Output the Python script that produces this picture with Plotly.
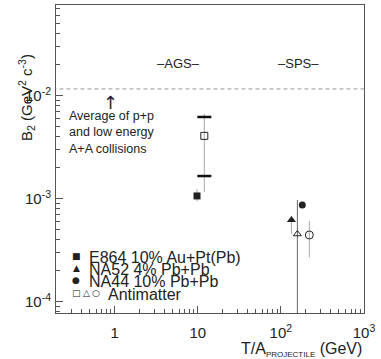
import plotly.graph_objects as go

# ---- data ----
e864_x = [9.8]
e864_y = [1.07e-3]
e864_up = [0.18e-3]
e864_dn = [0.12e-3]

na52_x = [134]
na52_y = [6.25e-4]
na52_up = [0.6e-4]
na52_dn = [1.65e-4]

na44_x = [181]
na44_y = [8.75e-4]

anti_sq_x = [12]
anti_sq_y = [4.1e-3]
anti_sq_up = [2.6e-3]
anti_sq_dn = [2.93e-3]
anti_sq_sys = [6.25e-3, 1.67e-3]

anti_tri_x = [158]
anti_tri_y = [4.57e-4]
anti_tri_up = [5.2e-4]
anti_tri_dn = [4.5e-4]

anti_circ_x = [220]
anti_circ_y = [4.47e-4]
anti_circ_up = [1.65e-4]
anti_circ_dn = [1.77e-4]

pp_avg = 0.0117
pp_x = [0.1, 2000]

x_tickvals = [1, 10, 100, 1000]
x_ticktext = ["1", "10", "10<sup>2</sup>", "10<sup>3</sup>"]
y_tickvals = [1e-4, 1e-3, 1e-2]
y_ticktext = ["10<sup>-4</sup>", "10<sup>-3</sup>", "10<sup>-2</sup>"]

FONT = "Liberation Sans, Arial, sans-serif"
INK = "#222222"
FRAME = "#555555"
ERR = "#aaaaaa"

fig = go.Figure()

# average of p+p line
fig.add_trace(go.Scatter(x=pp_x, y=[pp_avg, pp_avg], mode="lines",
                         line=dict(color="#999999", width=1, dash="4px,3px"),
                         hoverinfo="skip"))

# antimatter long error line (drawn first so markers sit on top)
fig.add_trace(go.Scatter(
    x=anti_tri_x, y=anti_tri_y, mode="markers",
    marker=dict(symbol="triangle-up-open", size=7, color=INK, line=dict(width=1)),
    error_y=dict(type="data", array=anti_tri_up, arrayminus=anti_tri_dn,
                 color="#666666", thickness=1, width=0)))

fig.add_trace(go.Scatter(
    x=e864_x, y=e864_y, mode="markers",
    marker=dict(symbol="square", size=7, color=INK),
    error_y=dict(type="data", array=e864_up, arrayminus=e864_dn,
                 color=ERR, thickness=1, width=0)))

fig.add_trace(go.Scatter(
    x=anti_sq_x, y=anti_sq_y, mode="markers",
    marker=dict(symbol="square-open", size=7, color=INK, line=dict(width=1)),
    error_y=dict(type="data", array=anti_sq_up, arrayminus=anti_sq_dn,
                 color=ERR, thickness=1, width=0)))

# systematic bars on the antimatter AGS point
fig.add_trace(go.Scatter(
    x=anti_sq_x * 2, y=anti_sq_sys, mode="markers",
    marker=dict(symbol="line-ew", size=10, line=dict(color="#111111", width=2.5))))

fig.add_trace(go.Scatter(
    x=na52_x, y=na52_y, mode="markers",
    marker=dict(symbol="triangle-up", size=8, color=INK),
    error_y=dict(type="data", array=na52_up, arrayminus=na52_dn,
                 color=ERR, thickness=1, width=0)))

fig.add_trace(go.Scatter(
    x=na44_x, y=na44_y, mode="markers",
    marker=dict(symbol="circle", size=7, color=INK)))

fig.add_trace(go.Scatter(
    x=anti_circ_x, y=anti_circ_y, mode="markers",
    marker=dict(symbol="circle-open", size=8, color=INK, line=dict(width=1)),
    error_y=dict(type="data", array=anti_circ_up, arrayminus=anti_circ_dn,
                 color=ERR, thickness=1, width=0)))

# ---- annotations ----
W, H, L, T = 308.0, 308.0, 56.0, 5.0


def px(x):
    return (x - L) / W


def py(y):
    return (T + H - y) / H


ann = []


def add_text(text, x, y, size, xanchor="center", family=FONT, **kw):
    ann.append(dict(text=text, x=px(x), y=py(y), xref="paper", yref="paper",
                    xanchor=xanchor, yanchor="middle", showarrow=False,
                    font=dict(family=family, size=size, color=INK), **kw))


add_text("\u2013AGS\u2013", 178, 63, 13)
add_text("\u2013SPS\u2013", 298, 63, 13)
add_text("\u2191", 110, 102, 18, family="DejaVu Sans, sans-serif")
add_text("Average of p+p<br>and low energy<br>A+A collisions", 67, 132, 12.5,
         xanchor="left", align="left")

# legend
SYM = "DejaVu Sans, sans-serif"
for gy, g in [(256, "\u25A0"), (268, "\u25B2"), (280, "\u25CF")]:
    add_text(g, 76, gy, 9, family=SYM)
for gx, g in [(76, "\u25A1"), (86, "\u25B3"), (96, "\u25CB")]:
    add_text(g, gx, 293, 9, family=SYM)
add_text("E864 10% Au+Pt(Pb)", 87, 257, 16, xanchor="left")
add_text("NA52 4% Pb+Pb", 87, 269, 16, xanchor="left")
add_text("NA44 10% Pb+Pb", 87, 281, 16, xanchor="left")
add_text("Antimatter", 106, 294, 16, xanchor="left")

# axis titles
ann.append(dict(text="B<sub>2</sub> (GeV<sup>2</sup> c<sup>-3</sup>)",
                x=px(14), y=py(52), xref="paper", yref="paper", textangle=-90,
                showarrow=False, font=dict(family=FONT, size=15, color=INK)))
add_text("T/A<sub><span style='font-size:8px'>PROJECTILE</span></sub> (GeV)",
         364, 349, 16, xanchor="right")

minor_x = [m * 10 ** e for e in range(-1, 3) for m in range(2, 10)]
minor_y = [m * 10 ** e for e in range(-5, -1) for m in range(2, 10)]

axis_common = dict(type="log", showgrid=False, zeroline=False, showline=True,
                   linecolor=FRAME, linewidth=1, mirror=True, ticks="inside",
                   ticklen=7, tickcolor=FRAME, tickwidth=1, automargin=False,
                   tickfont=dict(family=FONT, size=15, color=INK))

fig.update_layout(
    width=381, height=359,
    margin=dict(l=56, r=17, t=5, b=46),
    paper_bgcolor="white", plot_bgcolor="white",
    showlegend=False,
    annotations=ann,
    xaxis=dict(range=[-0.705, 3.0], tickmode="array", tickvals=x_tickvals,
               ticktext=x_ticktext, ticklabelstandoff=6,
               minor=dict(tickmode="array", tickvals=minor_x, ticks="inside",
                          ticklen=4, tickcolor=FRAME),
               **axis_common),
    yaxis=dict(range=[-4.107, -1.117], tickmode="array", tickvals=y_tickvals,
               ticktext=y_ticktext, ticklabelstandoff=1,
               minor=dict(tickmode="array", tickvals=minor_y, ticks="inside",
                          ticklen=4, tickcolor=FRAME),
               **axis_common),
)

# page body has a default margin; drop it so the figure fills the window
fig.write_html("out.html", config={"displayModeBar": False},
               post_script="document.body.style.margin='0';")
